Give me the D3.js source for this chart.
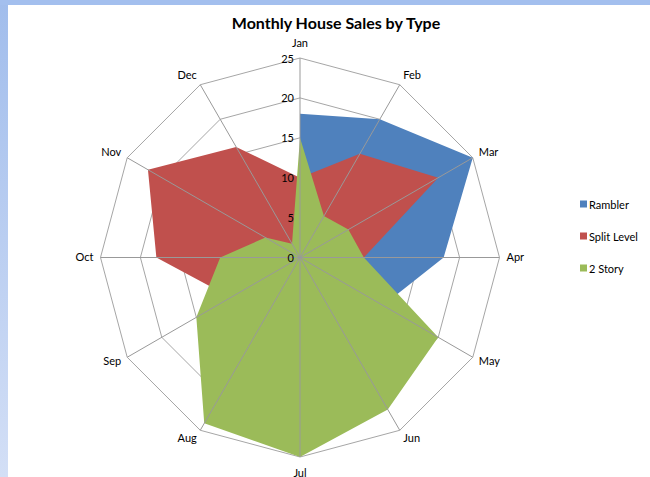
<!DOCTYPE html>
<html>
<head>
<meta charset="utf-8">
<script src="https://cdn.jsdelivr.net/npm/d3@7"></script>
<style>
  body { margin: 0; background: #fff; }
  svg text { font-family: Lato, "Open Sans", sans-serif; fill: #000; }
</style>
</head>
<body>
<svg id="chart" width="650" height="477"></svg>
<script>
"use strict";
const MONTHS = ["Jan","Feb","Mar","Apr","May","Jun","Jul","Aug","Sep","Oct","Nov","Dec"];
const RAMBLER = [18, 20, 25, 18, 12, 8, 5, 4, 6, 4, 2, 0];
const SPLIT_LEVEL = [10, 15, 20, 8, 7, 6, 8, 12, 10, 18, 22, 16];
const TWO_STORY = [15, 6, 7, 8, 20, 22, 25, 24, 15, 10, 5, 2];
const SERIES_NAMES = ["Rambler", "Split Level", "2 Story"];
const SERIES_COLORS = ["#4F81BD", "#C0504D", "#9BBB59"];
const TICKS = [0, 5, 10, 15, 20, 25];

const svg = d3.select("#chart");
const W = 650, H = 477;
const cx = 300, cy = 257.5, R = 199.5;

// background frame (blue bands on top and left)
const defs = svg.append("defs");
const grad = defs.append("linearGradient").attr("id", "side")
    .attr("x1", 0).attr("y1", 0).attr("x2", 0).attr("y2", 1);
grad.append("stop").attr("offset", "0%").attr("stop-color", "#A1BDEC");
grad.append("stop").attr("offset", "100%").attr("stop-color", "#D3DFF6");
svg.append("rect").attr("x", 0).attr("y", 0).attr("width", 8).attr("height", H).attr("fill", "url(#side)");
svg.append("rect").attr("x", 0).attr("y", 0).attr("width", W).attr("height", 5).attr("fill", "#A3BFEE");

const r = d3.scaleLinear().domain([0, 25]).range([0, R]);
const angle = d3.scalePoint().domain(MONTHS).range([0, 2 * Math.PI * 11 / 12]);
const pt = (m, v) => {
  const a = angle(m);
  return [cx + r(v) * Math.sin(a), cy - r(v) * Math.cos(a)];
};

const g = svg.append("g");

// rings
TICKS.slice(1).forEach(t => {
  g.append("polygon")
    .attr("points", MONTHS.map(m => pt(m, t).join(",")).join(" "))
    .attr("fill", "none")
    .attr("stroke", "#A6A6A6")
    .attr("stroke-width", 1);
});

// filled series
const data = [RAMBLER, SPLIT_LEVEL, TWO_STORY];
data.forEach((vals, i) => {
  g.append("polygon")
    .attr("points", MONTHS.map((m, j) => pt(m, vals[j]).join(",")).join(" "))
    .attr("fill", SERIES_COLORS[i]);
});

// spokes on top of fills
MONTHS.forEach(m => {
  const [x, y] = pt(m, 25);
  g.append("line")
    .attr("x1", cx).attr("y1", cy).attr("x2", x).attr("y2", y)
    .attr("stroke", "#999999").attr("stroke-width", 1);
});

// value axis labels
TICKS.forEach(t => {
  g.append("text")
    .attr("x", cx - 6).attr("y", cy - r(t))
    .attr("text-anchor", "end")
    .attr("dominant-baseline", "central")
    .style("font-size", "11px")
    .text(t);
});

// month labels
MONTHS.forEach(m => {
  const a = angle(m);
  const s = Math.sin(a), c = Math.cos(a);
  const [x, y] = pt(m, 25);
  let anchor = "middle", dy = -c * 10 - 1.5;
  if (s > 0.1) anchor = "start";
  if (s < -0.1) anchor = "end";
  if (c > 0.99) dy = -16;
  if (c < -0.99) dy = 15;
  g.append("text")
    .attr("x", x + s * 7)
    .attr("y", y + dy)
    .attr("text-anchor", anchor)
    .attr("dominant-baseline", "central")
    .style("font-size", "11px")
    .text(m);
});

// title
svg.append("text")
  .attr("x", 336).attr("y", 29)
  .attr("text-anchor", "middle")
  .style("font-size", "16px")
  .style("font-weight", "bold")
  .text("Monthly House Sales by Type");

// legend
const legend = svg.append("g").attr("transform", "translate(580,204)");
SERIES_NAMES.forEach((name, i) => {
  const row = legend.append("g").attr("transform", `translate(0,${i * 32})`);
  row.append("rect").attr("x", 0).attr("y", -3.5).attr("width", 7).attr("height", 7)
    .attr("fill", SERIES_COLORS[i]);
  row.append("text").attr("x", 9).attr("y", 0)
    .attr("dominant-baseline", "central")
    .style("font-size", "11px")
    .text(name);
});
</script>
</body>
</html>
